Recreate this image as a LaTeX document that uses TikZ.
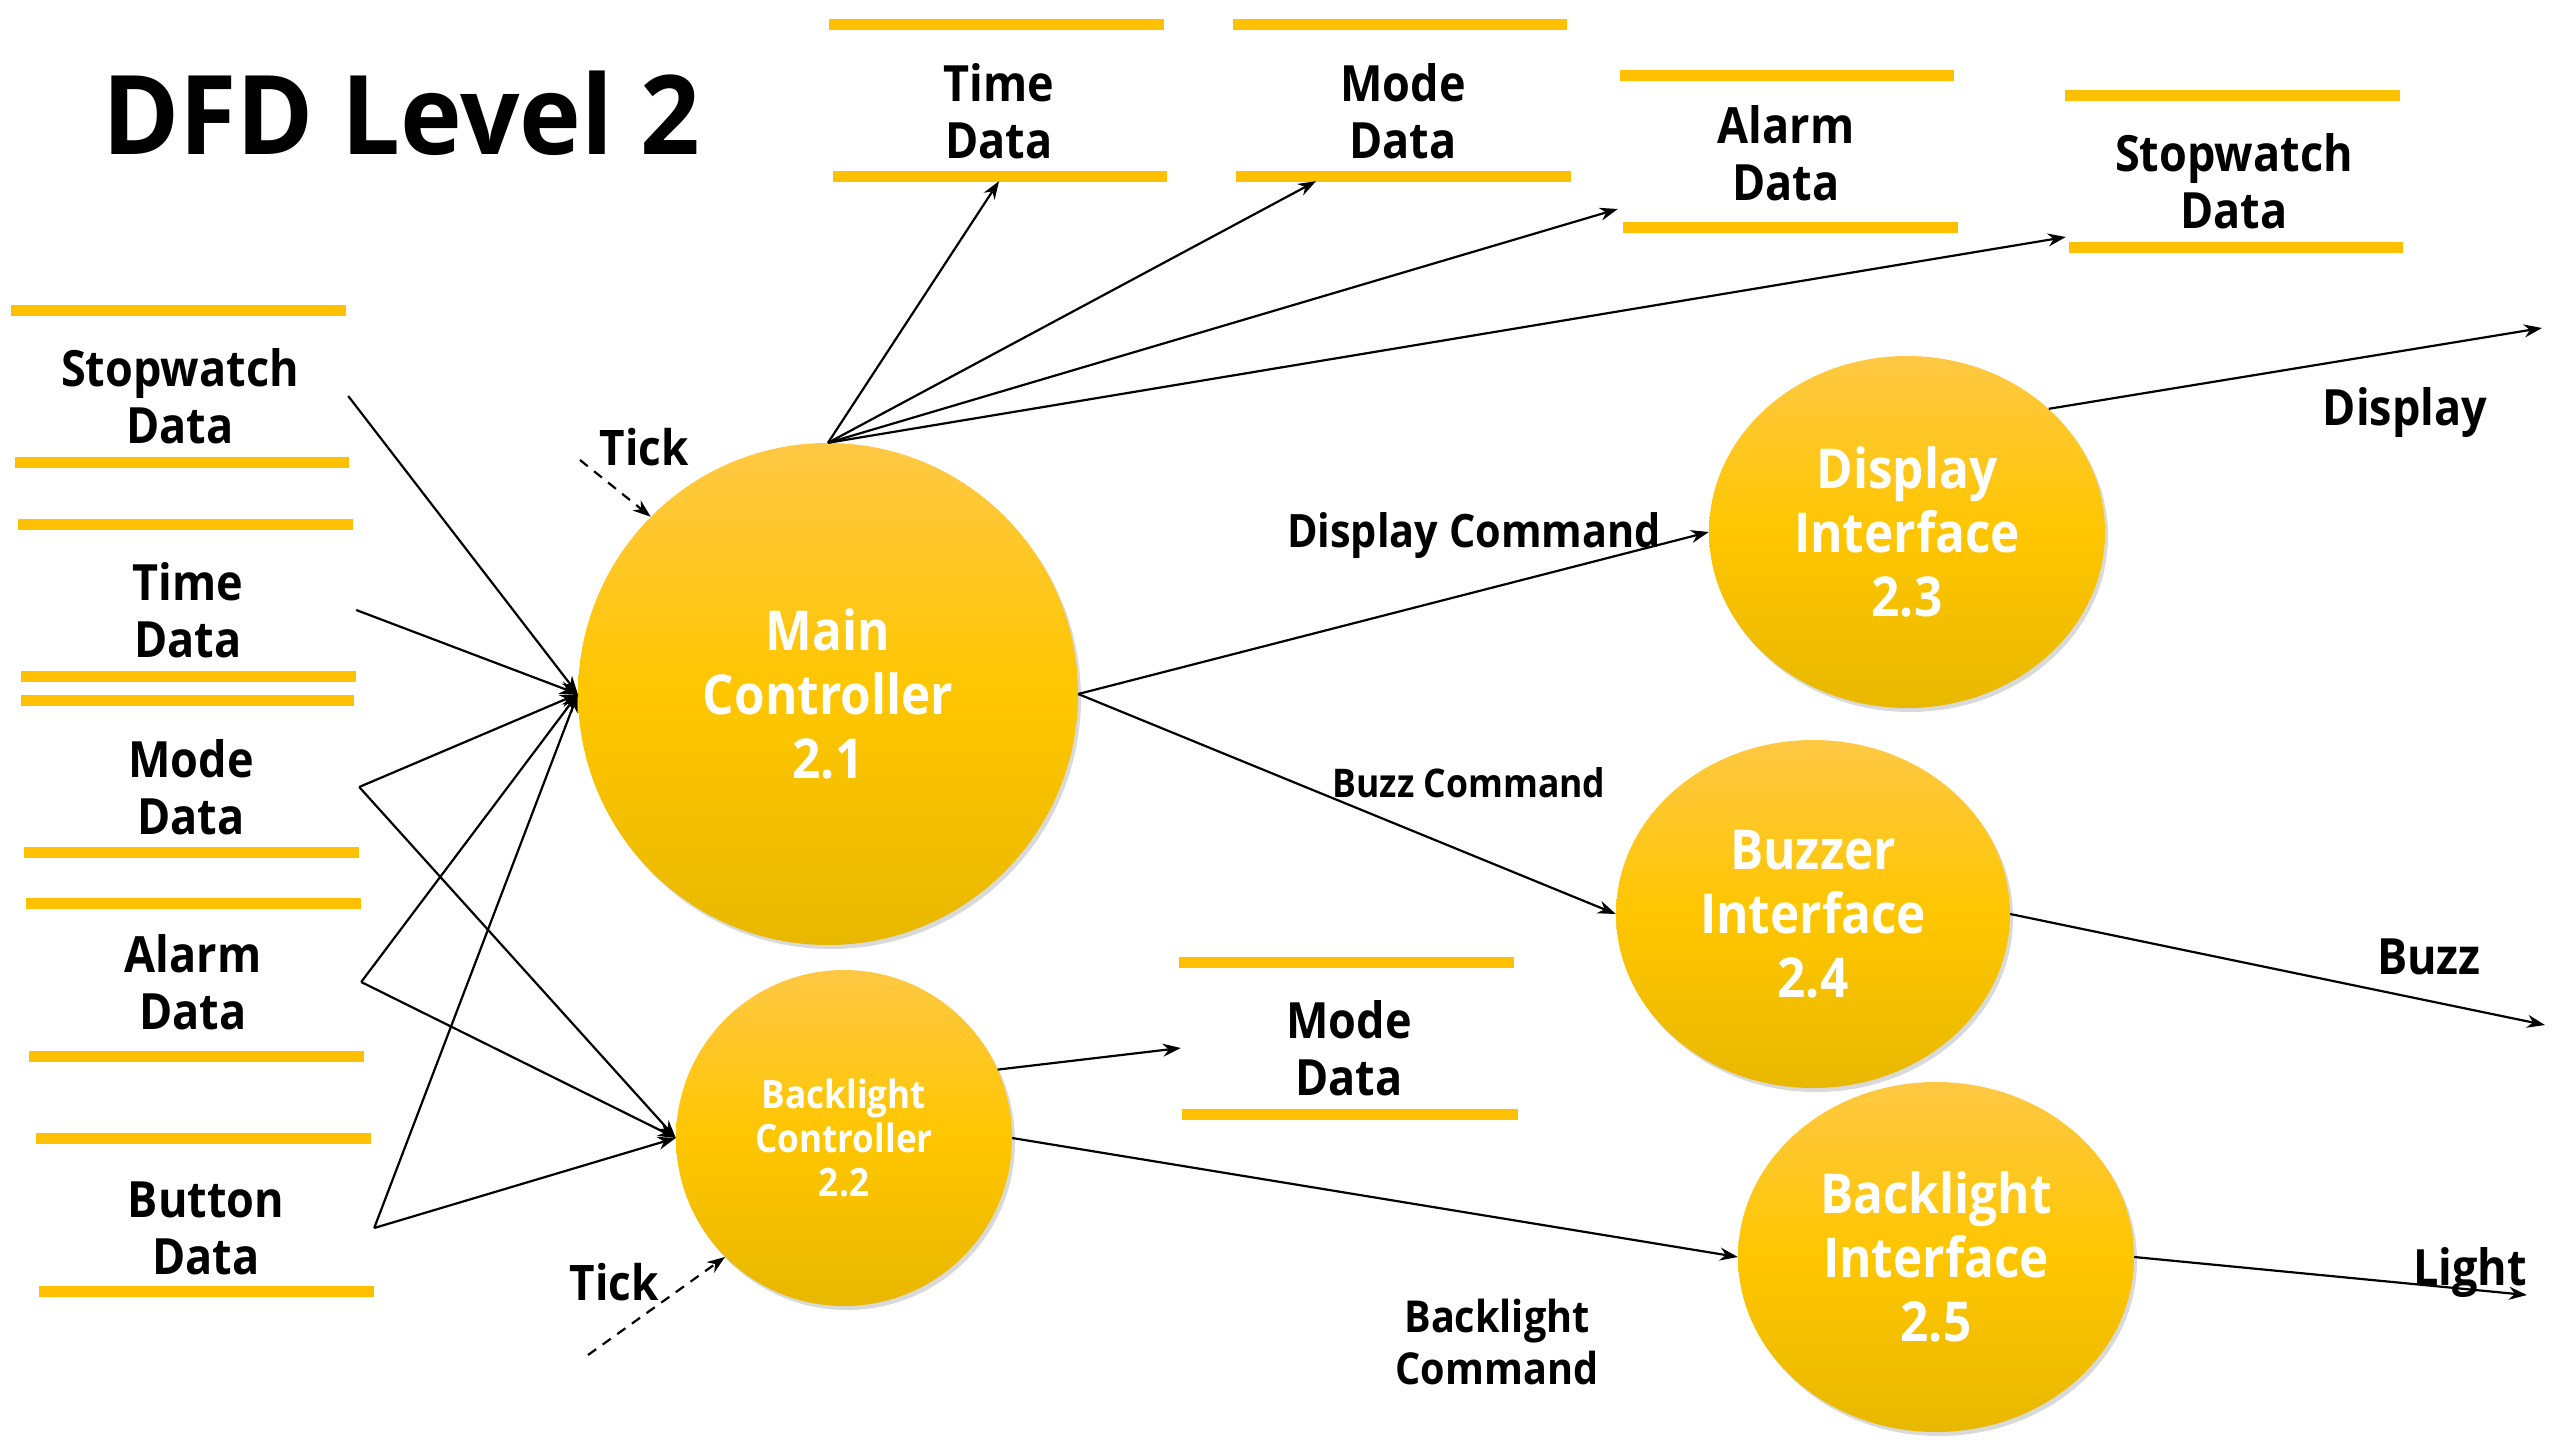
\documentclass[tikz,border=0pt]{standalone}
\usepackage{fontspec}
\setmainfont{Open Sans}[FakeStretch=0.9]
\newfontfamily\titlefont{Open Sans}[FakeStretch=0.95]
\usetikzlibrary{arrows.meta,shapes.geometric,shadows}

\definecolor{baryel}{HTML}{FFC000}
\definecolor{ctop}{HTML}{FFC844}
\definecolor{cmid}{HTML}{FFC600}
\definecolor{cbot}{HTML}{E8B800}

\tikzset{
  bar/.style={baryel, line width=11pt},
  store/.style={font=\bfseries\fontsize{50}{57}\selectfont, align=center, minimum width=336pt, inner sep=0pt},
  proc/.style={ellipse, inner sep=0pt, top color=ctop, bottom color=cbot, middle color=cmid, text=white, align=center,
    drop shadow={shadow xshift=3pt, shadow yshift=-4pt, opacity=0.3}},
  bigtxt/.style={font=\bfseries\fontsize{55}{64}\selectfont},
  flow/.style={line width=2.2pt, -{Stealth[length=18pt,width=13pt]}},
  tickflow/.style={flow, dash pattern=on 10pt off 8pt},
  lbl/.style={font=\bfseries\fontsize{46}{52}\selectfont, inner sep=0pt, align=center},
}

\begin{document}
\begin{tikzpicture}[x=1pt,y=-1pt]
\useasboundingbox (0,0) rectangle (2560,1440);

% title
\node[anchor=base west, inner sep=0pt, font=\titlefont\bfseries\fontsize{110}{120}\selectfont] (title) at (102,154) {DFD Level 2};

% left data stores
\node[store] (sw) at (180,396) {Stopwatch\\Data};
\draw[bar] (11,310) -- (346,310); \draw[bar] (15,462) -- (349,462);
\node[store] (tm) at (188,610) {Time\\Data};
\draw[bar] (18,524) -- (353,524); \draw[bar] (21,676) -- (356,676);
\node[store] (md) at (191,787) {Mode\\Data};
\draw[bar] (21,700) -- (354,700); \draw[bar] (24,852) -- (359,852);
\node[store] (al) at (193,982) {Alarm\\Data};
\draw[bar] (26,903) -- (361,903); \draw[bar] (29,1056) -- (364,1056);
\node[store] (bt) at (206,1228) {Button\\Data};
\draw[bar] (36,1138) -- (371,1138); \draw[bar] (39,1291) -- (374,1291);

% top data stores
\node[store, minimum height=140pt] (tt) at (999,111) {Time\\Data};
\draw[bar] (829,24) -- (1164,24); \draw[bar] (833,176) -- (1167,176);
\node[store, minimum height=140pt] (mt) at (1403,111) {Mode\\Data};
\draw[bar] (1233,24) -- (1567,24); \draw[bar] (1236,176) -- (1571,176);
\node[store, minimum height=140pt] (at) at (1786,153) {Alarm\\Data};
\draw[bar] (1620,75) -- (1954,75); \draw[bar] (1623,227) -- (1958,227);
\node[store, minimum height=140pt] (st) at (2234,181) {Stopwatch\\Data};
\draw[bar] (2065,95) -- (2400,95); \draw[bar] (2069,247) -- (2403,247);
% middle data store
\node[store] (mm) at (1349,1048) {Mode\\Data};
\draw[bar] (1179,962) -- (1514,962); \draw[bar] (1182,1114) -- (1518,1114);

% processes
\node[proc, bigtxt, minimum width=500pt, minimum height=502pt] (mc) at (828,694) {Main\\Controller\\2.1};
\node[proc, font=\bfseries\fontsize{39}{44}\selectfont, minimum width=336pt, minimum height=336pt] (bc) at (844,1138) {Backlight\\Controller\\2.2};
\node[proc, bigtxt, minimum width=396pt, minimum height=352pt] (di) at (1907,532) {Display\\Interface\\2.3};
\node[proc, bigtxt, minimum width=394pt, minimum height=348pt] (bz) at (1813,914) {Buzzer\\Interface\\2.4};
\node[proc, bigtxt, minimum width=396pt, minimum height=350pt] (bli) at (1936,1257) {Backlight\\Interface\\2.5};

% free ends
\coordinate (dout) at (2542,328);
\coordinate (bout) at (2545,1025);
\coordinate (lout) at (2527,1295);
\coordinate (t1) at (580,460);
\coordinate (t2) at (588,1355);

% inputs
\draw[flow] (sw.east) -- (mc.west);
\draw[flow] (tm.east) -- (mc.west);
\draw[flow] (md.east) -- (mc.west);
\draw[flow] (al.east) -- (mc.west);
\draw[flow] (bt.east) -- (mc.west);
\draw[flow] (md.east) -- (bc.west);
\draw[flow] (al.east) -- (bc.west);
\draw[flow] (bt.east) -- (bc.west);
\draw[tickflow] (t1) -- (mc.135);
\draw[tickflow] (t2) -- (bc.225);

% outputs of main controller
\draw[flow] (mc.north) -- (tt.south);
\draw[flow] (mc.north) -- ([xshift=-87pt]mt.south);
\draw[flow] (mc.north) -- ([yshift=-56pt]at.west);
\draw[flow] (mc.north) -- ([yshift=-56pt]st.west);
\draw[flow] (mc.east) -- (di.west);
\draw[flow] (mc.east) -- (bz.west);

% backlight controller outputs
\draw[flow] (bc.24) -- (mm.west);
\draw[flow] (bc.east) -- (bli.west);

% interfaces outputs
\draw[flow] (di.41) -- (dout);
\draw[flow] (bz.east) -- (bout);
\draw[flow] (bli.east) -- (lout);

% labels
\node[lbl, font=\bfseries\fontsize{49}{52}\selectfont] (tick1) at (644,447) {Tick};
\node[lbl, font=\bfseries\fontsize{49}{52}\selectfont] (tick2) at (614,1282) {Tick};
\node[lbl] (dcl) at (1474,536) {Display Command};
\node[lbl, font=\bfseries\fontsize{39.5}{44}\selectfont] (bzl) at (1469,783) {Buzz Command};
\node[lbl, font=\bfseries\fontsize{44}{52}\selectfont] (bcl) at (1497,1342) {Backlight\\Command};
\node[lbl, font=\bfseries\fontsize{50}{56}\selectfont] (dl) at (2405,413) {Display};
\node[lbl, font=\bfseries\fontsize{50}{56}\selectfont] (bl) at (2429,957) {Buzz};
\node[lbl, font=\bfseries\fontsize{50}{56}\selectfont] (ll) at (2470,1272) {Light};
\end{tikzpicture}
\end{document}
